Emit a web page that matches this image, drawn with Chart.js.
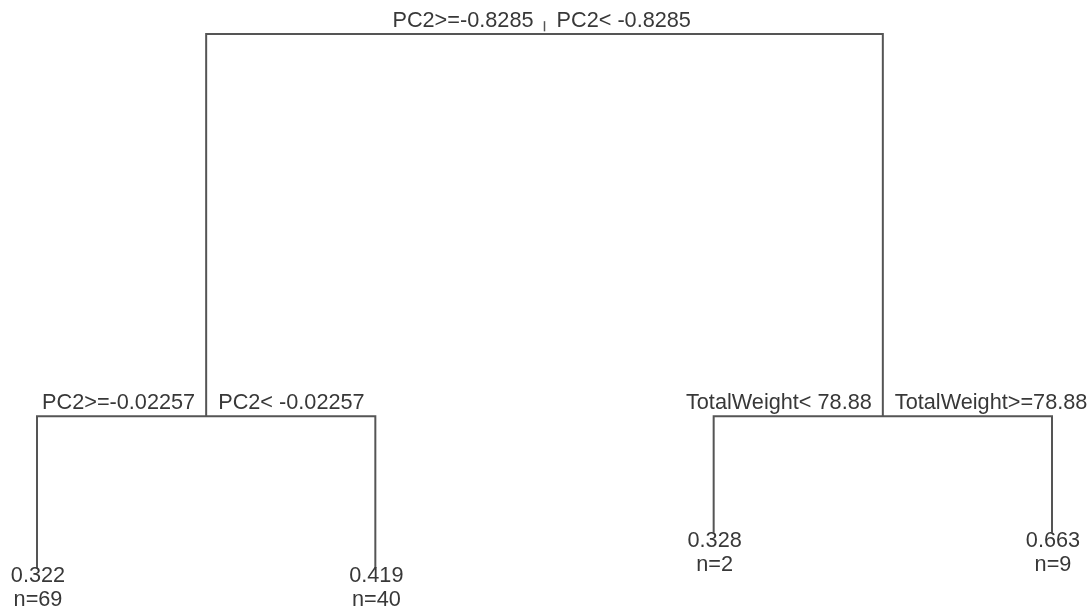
<!DOCTYPE html>
<html>
<head>
<meta charset="utf-8">
<script src="https://cdn.jsdelivr.net/npm/chart.js@4"></script>
<style>
  body { margin: 0; background: #fff; }
  #wrap { width: 1092px; height: 611px; }
</style>
</head>
<body>
<div id="wrap"><canvas id="myChart"></canvas></div>
<script>
// split nodes: 0 = root, 1 = left child, 2 = right child
const splitLeft = ['PC2>=-0.8285', 'PC2>=-0.02257', 'TotalWeight< 78.88'];
const splitRight = ['PC2< -0.8285', 'PC2< -0.02257', 'TotalWeight>=78.88'];
const splitHeight = [1, 0.284, 0.284];

// leaves in plotting order
const leafValue = ['0.322', '0.419', '0.328', '0.663'];
const leafN = [69, 40, 2, 9];
const leafHeight = [0, 0, 0.066, 0.066];

// children of each split ('L' = leaf index, 'S' = split index)
const children = [
  [['S', 1], ['S', 2]],
  [['L', 0], ['L', 1]],
  [['L', 2], ['L', 3]]
];

const LINE = '#555555';
const TEXT = '#383838';
const FONT = '21.7px "Liberation Sans", Arial, sans-serif';

// rpart style layout: leaves on 1..n, a split sits midway between its children
function nodePos(ref) {
  if (ref[0] == 'L') {
    return { x: ref[1] + 1, y: leafHeight[ref[1]] };
  }
  let l = nodePos(children[ref[1]][0]);
  let r = nodePos(children[ref[1]][1]);
  return { x: (l.x + r.x) / 2, y: splitHeight[ref[1]] };
}

const datasets = [];
for (let s = 0; s < children.length; s++) {
  let p = nodePos(['S', s]);
  let l = nodePos(children[s][0]);
  let r = nodePos(children[s][1]);
  datasets.push({
    data: [{x: l.x, y: l.y}, {x: l.x, y: p.y}, {x: r.x, y: p.y}, {x: r.x, y: r.y}],
    showLine: true,
    pointRadius: 0,
    borderColor: LINE,
    borderWidth: 2,
    tension: 0,
    clip: false
  });
}
// little tick above the root
let root = nodePos(['S', 0]);
datasets.push({
  data: [{x: root.x, y: root.y + 0.005}, {x: root.x, y: root.y + 0.024}],
  showLine: true,
  pointRadius: 0,
  borderColor: LINE,
  borderWidth: 1.5,
  clip: false
});

const treeLabels = {
  id: 'treeLabels',
  afterDatasetsDraw(chart) {
    const ctx = chart.ctx;
    const xs = chart.scales.x, ys = chart.scales.y;
    ctx.save();
    ctx.font = FONT;
    ctx.fillStyle = TEXT;
    ctx.textBaseline = 'alphabetic';
    for (let s = 0; s < children.length; s++) {
      let p = nodePos(['S', s]);
      let px = xs.getPixelForValue(p.x);
      let py = ys.getPixelForValue(p.y) - 7.5;
      ctx.textAlign = 'right';
      ctx.fillText(splitLeft[s], px - 11, py);
      ctx.textAlign = 'left';
      ctx.fillText(splitRight[s], px + 12, py);
    }
    ctx.textAlign = 'center';
    for (let i = 0; i < leafValue.length; i++) {
      let p = nodePos(['L', i]);
      let px = xs.getPixelForValue(p.x);
      let py = ys.getPixelForValue(p.y);
      ctx.fillText(leafValue[i], px + 1, py + 14);
      ctx.fillText('n=' + leafN[i], px + 1, py + 38);
    }
    ctx.restore();
  }
};

const config = {
  type: 'scatter',
  data: { datasets: datasets },
  options: {
    responsive: true,
    maintainAspectRatio: false,
    animation: false,
    layout: { padding: { left: 37, right: 40, top: 34, bottom: 43 } },
    scales: {
      x: { type: 'linear', min: 1, max: 4, display: false },
      y: { type: 'linear', min: 0, max: 1, display: false }
    },
    plugins: {
      legend: { display: false },
      tooltip: { enabled: false }
    }
  },
  plugins: [treeLabels]
};

new Chart(document.getElementById('myChart'), config);
</script>
</body>
</html>
